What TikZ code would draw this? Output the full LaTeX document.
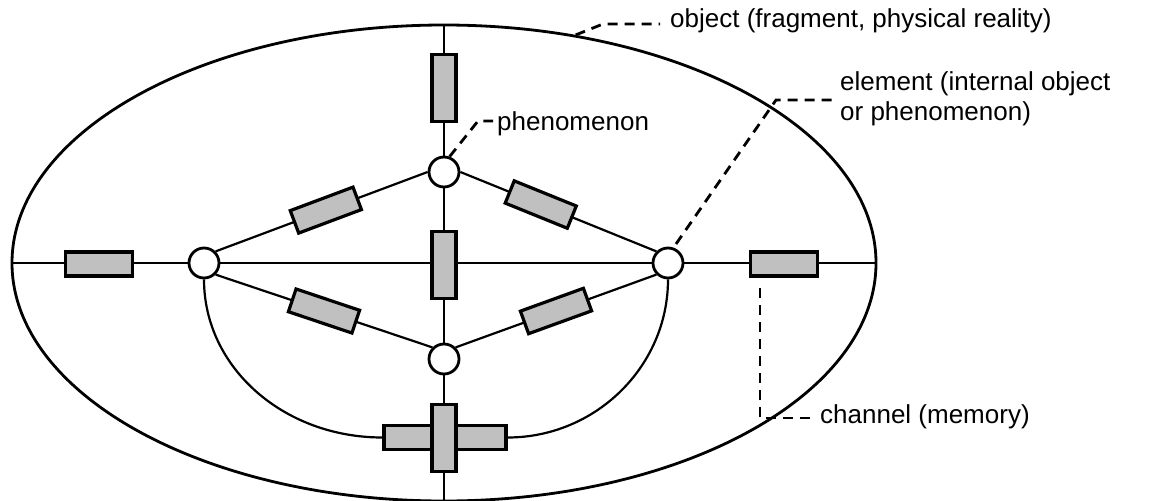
\documentclass[tikz,border=0pt]{standalone}
\usepackage{fontspec}
\setmainfont{Liberation Sans}
\usetikzlibrary{shapes.geometric}
\definecolor{boxgray}{RGB}{192,192,192}
\pgfdeclarelayer{bg}
\pgfsetlayers{bg,main}
\begin{document}
\begin{tikzpicture}[x=1pt,y=-1pt,
  outline/.style={line width=2.8pt},
  wire/.style={line width=2.2pt},
  hbox/.style={draw, fill=boxgray, line width=3.2pt, minimum width=67pt, minimum height=24pt, inner sep=0pt},
  vbox/.style={hbox, minimum width=24pt, minimum height=67pt},
  knot/.style={circle, draw, fill=white, line width=2.8pt, minimum size=30pt, inner sep=0pt},
  lead/.style={line width=2.8pt, dash pattern=on 10pt off 7pt},
  lbl/.style={inner sep=0pt, font=\fontsize{26}{30}\selectfont, anchor=base west}]
\useasboundingbox (0,0) rectangle (1155,500);
% outer object
\node[ellipse, draw, outline, minimum width=864pt, minimum height=476pt, inner sep=0pt] (E) at (444,263) {};
% phenomena
\node[knot] (L) at (204,263) {};
\node[knot] (R) at (668,263) {};
\node[knot] (T) at (444,172) {};
\node[knot] (B) at (444,359) {};
% channels on axes
\node[hbox] (LB) at (99,264) {};
\node[hbox] (RB) at (784,264) {};
\node[vbox] (TB) at (444,88) {};
\node[vbox] (CB) at (444,265) {};
% cross
\node[hbox, minimum width=122pt] (XH) at (445,437.5) {};
\node[vbox] (XV) at (444,438) {};
% diagonal channels
\path (L.45) -- (T.west) node[hbox, sloped, pos=0.52] (D1) {};
\path (T.east) -- (R.135) node[hbox, sloped, pos=0.41] (D2) {};
\path (L.-45) -- (B.135) node[hbox, sloped, pos=0.5] (D3) {};
\path (B.45) -- (R.-135) node[hbox, sloped, pos=0.5] (D4) {};
\begin{pgfonlayer}{bg}
\draw[wire] (E.west) -- (E.east);
\draw[wire] (E.north) -- (E.south);
\draw[wire] (L.45) -- (T.west);
\draw[wire] (T.east) -- (R.135);
\draw[wire] (L.-45) -- (B.135);
\draw[wire] (B.45) -- (R.-135);
\draw[wire] (L.south) .. controls +(0,88) and +(-99,0) .. (XH.west);
\draw[wire] (R.south) .. controls +(0,87) and +(88,0) .. (XH.east);
\end{pgfonlayer}
% labels
\node[lbl] (obj) at (670,28) {object (fragment, physical reality)};
\node[lbl] (phe) at (497,130) {phenomenon};
\node[lbl] (chan) at (820,423) {channel (memory)};
\node[inner sep=0pt, font=\fontsize{26}{30}\selectfont, align=left, anchor=west] (elem) at (840,99) {element (internal object\\or phenomenon)};
% leaders
\coordinate (ob1) at (603,24);
\coordinate (ob2) at (660,24);
\coordinate (ph1) at (478,121);
\coordinate (ph2) at (493,121);
\coordinate (el0) at (676,244);
\coordinate (el1) at (776,100);
\coordinate (el2) at (834,100);
\coordinate (ch0) at (760,288);
\coordinate (ch1) at (760,418);
\coordinate (ch2) at (812,418);
\draw[lead] (E.60) -- (ob1) -- (ob2);
\draw[lead] (T.70) -- (ph1) -- (ph2);
\draw[lead] (el0) -- (el1) -- (el2);
\draw[lead] (ch0) -- (ch1) -- (ch2);
\end{tikzpicture}
\end{document}
